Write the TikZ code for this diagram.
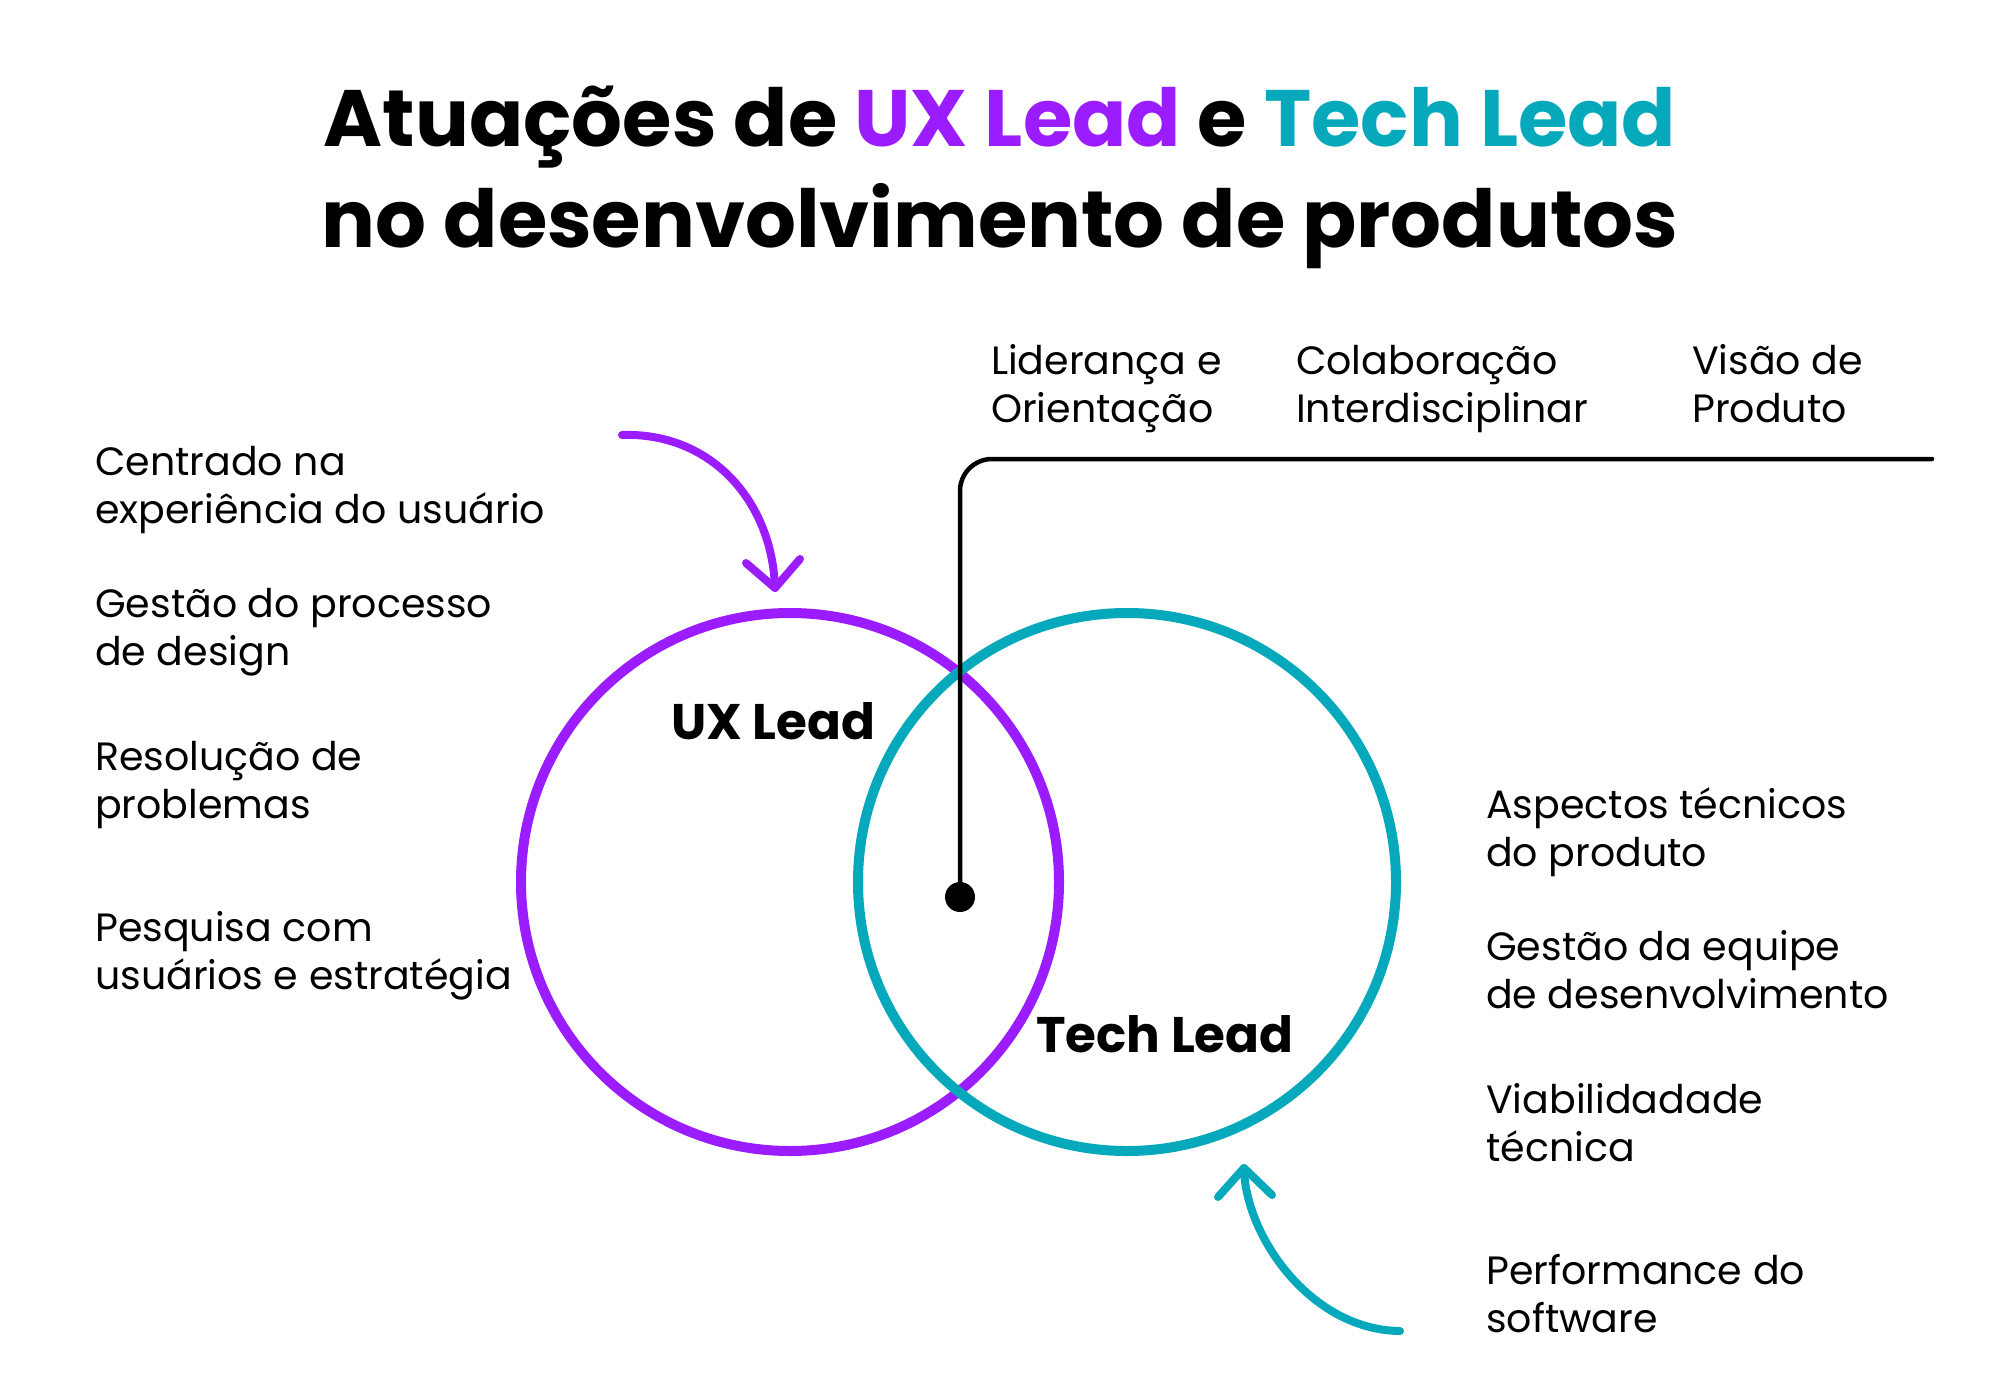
\documentclass[tikz,border=0pt]{standalone}
\usepackage{fontspec}
\setmainfont{Poppins}[BoldFont={* Bold}]
\newfontfamily\titlefont{Poppins}[BoldFont={* Bold}]
\usetikzlibrary{calc}
\definecolor{uxpurple}{HTML}{9B1CFF}
\definecolor{techteal}{HTML}{05A9BB}
\begin{document}
\begin{tikzpicture}[x=1pt,y=-1pt,
  body/.style={anchor=base west,align=left,inner sep=0pt,font=\fontsize{39.5}{48}\selectfont},
  toplabel/.style={body},
  circlelabel/.style={anchor=base west,inner sep=0pt,font=\fontsize{50}{60}\selectfont\bfseries},
  ring/.style={line width=10pt},
  curvedarrow/.style={line width=8pt,line cap=round,line join=round},
  leader/.style={line width=4.5pt,rounded corners=32pt,line cap=round}]
\useasboundingbox (0,0) rectangle (1999,1388);
% title
\node[anchor=base,inner sep=0pt,font=\titlefont\fontsize{80}{100}\selectfont\bfseries] (t1) at (1000,147)
  {Atuações de \textcolor{uxpurple}{UX Lead} e \textcolor{techteal}{Tech Lead}};
\node[anchor=base,inner sep=0pt,font=\titlefont\fontsize{80}{100}\selectfont\bfseries] (t2) at (1000,248)
  {no desenvolvimento de produtos};
% circles
\draw[ring,uxpurple] (790,882) circle[radius=269];
\draw[ring,techteal] (1127,882) circle[radius=269];
\node[circlelabel] (ux) at (671,739) {UX Lead};
\node[circlelabel] (tech) at (1036,1052) {Tech Lead};
% leader line
\node[circle,fill=black,inner sep=0pt,minimum size=30pt] (dot) at (960,897) {};
\coordinate (lineend) at (1932,459);
\draw[leader] (dot.center) |- (lineend);
% left texts (anchor = baseline of second line)
\node[body] (l1) at (95,523) {Centrado na\\experiência do usuário};
\node[body] (l2) at (95,665) {Gestão do processo\\de design};
\node[body] (l3) at (95,818) {Resolução de\\problemas};
\node[body] (l4) at (95,989) {Pesquisa com\\usuários e estratégia};
% top texts
\node[toplabel] (top1) at (991,422) {Liderança e\\Orientação};
\node[toplabel] (top2) at (1296,422) {Colaboração\\Interdisciplinar};
\node[toplabel] (top3) at (1692,422) {Visão de\\Produto};
% right texts
\node[body] (r1) at (1486,866) {Aspectos técnicos\\do produto};
\node[body] (r2) at (1486,1008) {Gestão da equipe\\de desenvolvimento};
\node[body] (r3) at (1486,1161) {Viabilidadade\\técnica};
\node[body] (r4) at (1486,1332) {Performance do\\software};
% purple arrow
\coordinate (pa0) at (622,435);
\coordinate (pa1) at (775,588);
\draw[curvedarrow,uxpurple] (pa0) .. controls (710,432) and (772,500) .. (pa1);
\draw[curvedarrow,uxpurple] (746,563) -- (pa1) -- (800,559);
% teal arrow
\coordinate (ta0) at (1400,1331);
\coordinate (ta1) at (1244,1168);
\draw[curvedarrow,techteal] (ta0) .. controls (1310,1330) and (1245,1235) .. (ta1);
\draw[curvedarrow,techteal] (1218,1197) -- (ta1) -- (1272,1195);
\end{tikzpicture}
\end{document}
